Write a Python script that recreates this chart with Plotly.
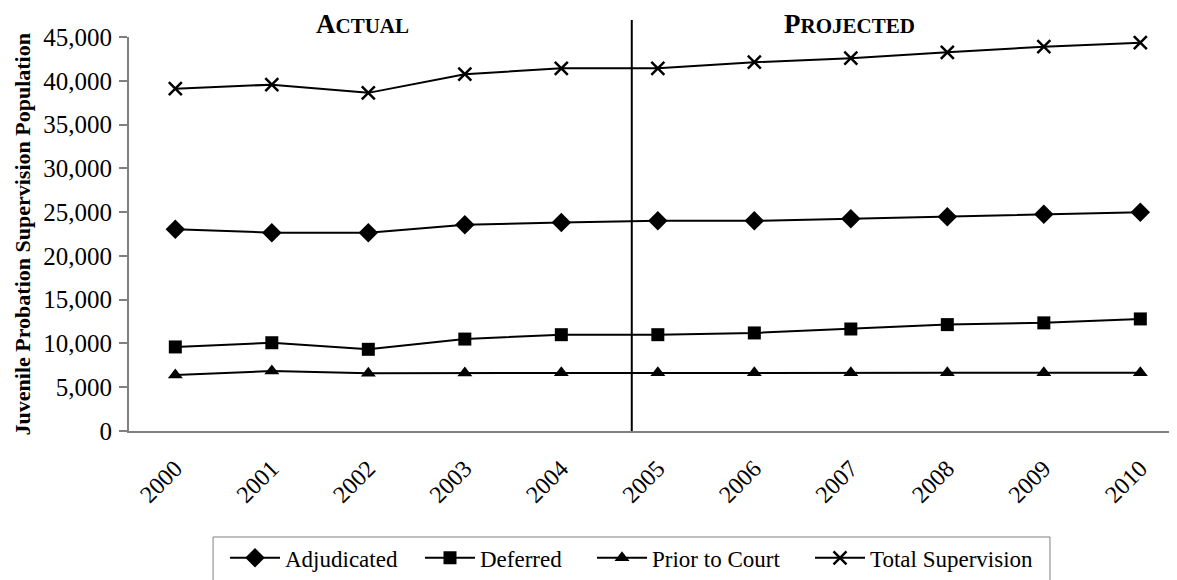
import plotly.graph_objects as go

years = [2000, 2001, 2002, 2003, 2004, 2005, 2006, 2007, 2008, 2009, 2010]
adjudicated = [23050, 22650, 22650, 23550, 23800, 24000, 24000, 24250, 24480, 24750, 24970]
deferred = [9600, 10080, 9330, 10500, 11000, 11000, 11200, 11650, 12150, 12350, 12800]
prior_to_court = [6400, 6850, 6600, 6620, 6640, 6650, 6650, 6650, 6650, 6650, 6650]
total_supervision = [39100, 39560, 38620, 40750, 41420, 41420, 42120, 42580, 43250, 43900, 44350]

y_ticks = [0, 5000, 10000, 15000, 20000, 25000, 30000, 35000, 40000, 45000]
y_tick_labels = ["0", "5,000", "10,000", "15,000", "20,000", "25,000",
                 "30,000", "35,000", "40,000", "45,000"]

FONT = "Liberation Serif"

# name, values, marker symbol, marker size, legend entry width
series = [
    ("Adjudicated", adjudicated, "diamond", 15, 130),
    ("Deferred", deferred, "square", 13, 107),
    ("Prior to Court", prior_to_court, "triangle-up", 13, 153),
    ("Total Supervision", total_supervision, "x-thin", 13, 165),
]

fig = go.Figure()
for name, vals, sym, size, lw in series:
    marker = dict(symbol=sym, size=size, color="black")
    if sym == "x-thin":
        marker["line"] = dict(color="black", width=2.5)
    fig.add_trace(go.Scatter(
        x=years, y=vals, name=name, mode="lines+markers",
        line=dict(color="black", width=2),
        marker=marker, cliponaxis=False, legendwidth=lw,
    ))

# x range in years so the plot area runs from the y-axis to the right edge
x0, x1 = 1999.52, 2010.38
divider_year = 2004.73
fig.add_shape(type="line", xref="paper", yref="paper",
              x0=(divider_year - x0) / (x1 - x0), x1=(divider_year - x0) / (x1 - x0),
              y0=0, y1=1.043, line=dict(color="black", width=2))

# legend frame (its bottom edge runs off the page, as in the reference)
fig.add_shape(type="rect", xref="paper", yref="paper",
              x0=0.0802, x1=0.8788, y0=-0.40, y1=-0.269,
              line=dict(color="#808080", width=1), fillcolor="rgba(0,0,0,0)")

fig.add_annotation(text="<b>A<span style='font-size:21px'>CTUAL</span></b>",
                   xref="x", yref="paper", x=2001.94, y=1.033, yanchor="middle",
                   showarrow=False, font=dict(family=FONT, size=27, color="black"))
fig.add_annotation(text="<b>P<span style='font-size:21px'>ROJECTED</span></b>",
                   xref="x", yref="paper", x=2006.99, y=1.033, yanchor="middle",
                   showarrow=False, font=dict(family=FONT, size=27, color="black"))
fig.add_annotation(text="<b>Juvenile Probation Supervision Population</b>",
                   xref="paper", yref="paper", x=-0.1155, xanchor="left", y=0.50,
                   textangle=-90, showarrow=False,
                   font=dict(family=FONT, size=22, color="black"))

fig.update_layout(
    width=1169, height=572,
    margin=dict(l=121, r=0, t=29, b=149, pad=0, autoexpand=False),
    paper_bgcolor="white", plot_bgcolor="white",
    font=dict(family=FONT, size=23, color="black"),
    showlegend=True,
    legend=dict(orientation="h", x=0.0916, xanchor="left", y=-0.322, yanchor="middle",
                borderwidth=0, bgcolor="rgba(0,0,0,0)",
                font=dict(family=FONT, size=23, color="black"),
                itemwidth=50, tracegroupgap=0, entrywidthmode="pixels"),
    xaxis=dict(range=[x0, x1], tickmode="array", tickvals=years,
               ticktext=[str(y) for y in years], tickangle=-45,
               showgrid=False, zeroline=False, showline=True, linecolor="#808080",
               linewidth=2, ticks="", ticklabelstandoff=12,
               tickfont=dict(family=FONT, size=24, color="black")),
    yaxis=dict(range=[0, 45000], tickmode="array", tickvals=y_ticks, ticktext=y_tick_labels,
               showgrid=False, zeroline=False, showline=True, linecolor="#808080",
               linewidth=2, ticks="outside", ticklen=8, tickcolor="#808080", tickwidth=1.5,
               ticklabelstandoff=2,
               tickfont=dict(family=FONT, size=25, color="black")),
)

fig.write_html("out.html")
